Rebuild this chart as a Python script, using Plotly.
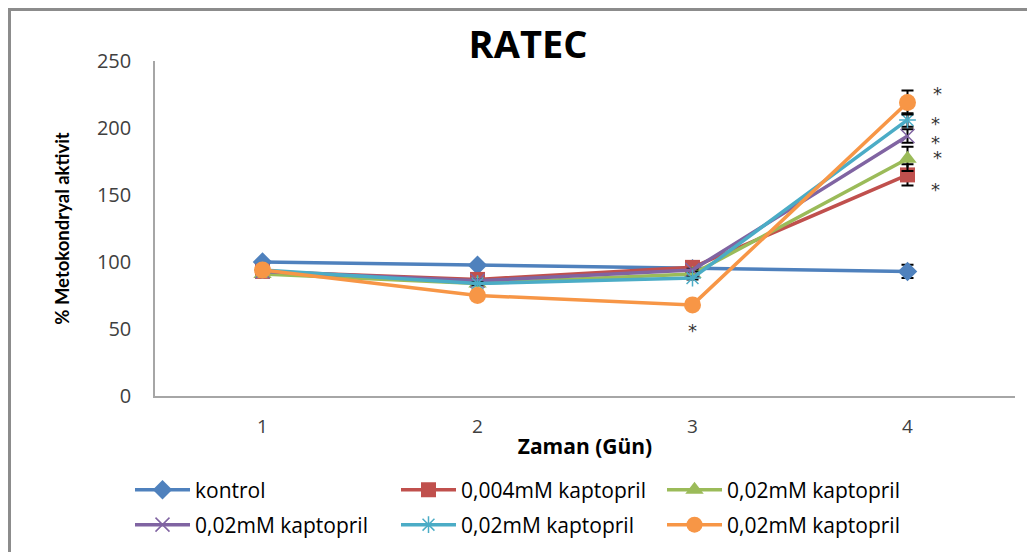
import plotly.graph_objects as go

days = [1, 2, 3, 4]
day_labels = ["1", "2", "3", "4"]
series_names = ["kontrol", "0,004mM kaptopril", "0,02mM kaptopril",
                "0,02mM kaptopril", "0,02mM kaptopril", "0,02mM kaptopril"]
kontrol = [100, 97.5, 95, 93]
kap_0004 = [93, 87, 96, 165]
kap_002_a = [91, 84, 91, 177]
kap_002_b = [93, 86, 94, 194]
kap_002_c = [94, 84, 88, 206]
kap_002_d = [94, 75, 68, 219]
err_kontrol = [1, 1, 1, 5]
err_0004 = [1, 1, 1, 8]
err_002_a = [1, 1, 1, 9]
err_002_b = [1, 1, 1, 5]
err_002_c = [1, 1, 1, 5]
err_002_d = [1, 1, 1, 9]
star_x = [4.14, 4.13, 4.13, 4.14, 4.13, 3.0]
star_y = [226, 203, 189, 178, 154, 49]

values = [kontrol, kap_0004, kap_002_a, kap_002_b, kap_002_c, kap_002_d]
errors = [err_kontrol, err_0004, err_002_a, err_002_b, err_002_c, err_002_d]
colors = ["#4F81BD", "#C0504D", "#9BBB59", "#8064A2", "#4BACC6", "#F79646"]
symbols = ["diamond", "square", "triangle-up", "x-thin-open", "asterisk-open", "circle"]
sizes = [15, 15, 16, 14, 14, 17]
legends = ["legend", "legend", "legend", "legend2", "legend2", "legend2"]

# figure is placed at page offset (8, 8) by the browser's default body margin
W, H = 1027, 544
L, T, R, B = 147, 53, 20, 156
PW, PH = W - L - R, H - T - B

fig = go.Figure()
for name, v, e, c, s, sz, lg in zip(series_names, values, errors, colors, symbols, sizes, legends):
    thin = s.endswith("-open")
    fig.add_trace(go.Scatter(
        x=days, y=v, name=name, mode="lines+markers", legend=lg,
        line=dict(color=c, width=3.5),
        marker=dict(symbol=s, size=sz, color=c,
                    line=dict(color=c, width=1.5 if thin else 0)),
        error_y=dict(type="data", array=e, visible=True, color="#000000",
                     thickness=2, width=6),
    ))

for xs, ys in zip(star_x, star_y):
    fig.add_annotation(x=xs, y=ys, text="*", showarrow=False,
                       font=dict(size=18, color="#333333", family="DejaVu Sans"))

fig.add_shape(type="rect", xref="paper", yref="paper",
              x0=(1.5 - L) / PW, x1=1.1, y0=-0.6, y1=(H - 1.5 - B) / PH,
              line=dict(color="#8C8C8C", width=3), fillcolor="rgba(0,0,0,0)",
              layer="below")

legend_common = dict(orientation="h", xanchor="left", yanchor="middle",
                     entrywidth=196, entrywidthmode="pixels", itemwidth=55,
                     font=dict(size=21, color="#000000", family="Open Sans"),
                     bgcolor="rgba(0,0,0,0)")

fig.update_layout(
    width=W, height=H,
    margin=dict(l=L, r=R, t=T, b=B, autoexpand=False),
    paper_bgcolor="white", plot_bgcolor="white",
    font=dict(family="Open Sans", color="#404040", size=17),
    title=dict(text="<b>RATEC</b>", x=(520 - L) / PW, xref="paper", xanchor="center",
               y=1 - 37 / H, yref="container", yanchor="middle",
               font=dict(size=38, color="#000000", family="Open Sans")),
    showlegend=True,
    legend=dict(x=(122 - L) / PW, y=(388 - 482) / PH, **legend_common),
    legend2=dict(x=(122 - L) / PW, y=(388 - 517) / PH, **legend_common),
    xaxis=dict(range=[0.5, 4.5], tickvals=days, ticktext=day_labels,
               showgrid=False, zeroline=False, showline=True,
               linecolor="#A6A6A6", linewidth=1.5, ticks="",
               ticklabelstandoff=12,
               tickfont=dict(size=19, color="#404040", family="Open Sans"),
               title=dict(text="<b>Zaman (Gün)</b>", standoff=2,
                          font=dict(size=21, color="#000000", family="Open Sans"))),
    yaxis=dict(range=[0, 250], tickvals=[0, 50, 100, 150, 200, 250],
               showgrid=False, zeroline=False, showline=True,
               linecolor="#A6A6A6", linewidth=1.5, ticks="",
               ticklabelstandoff=18,
               tickfont=dict(size=20, color="#404040", family="Open Sans"),
               title=dict(text="<b>% Metokondryal aktivit</b>", standoff=22,
                          font=dict(size=18.5, color="#000000", family="Lato"))),
)

fig.write_html("out.html")
